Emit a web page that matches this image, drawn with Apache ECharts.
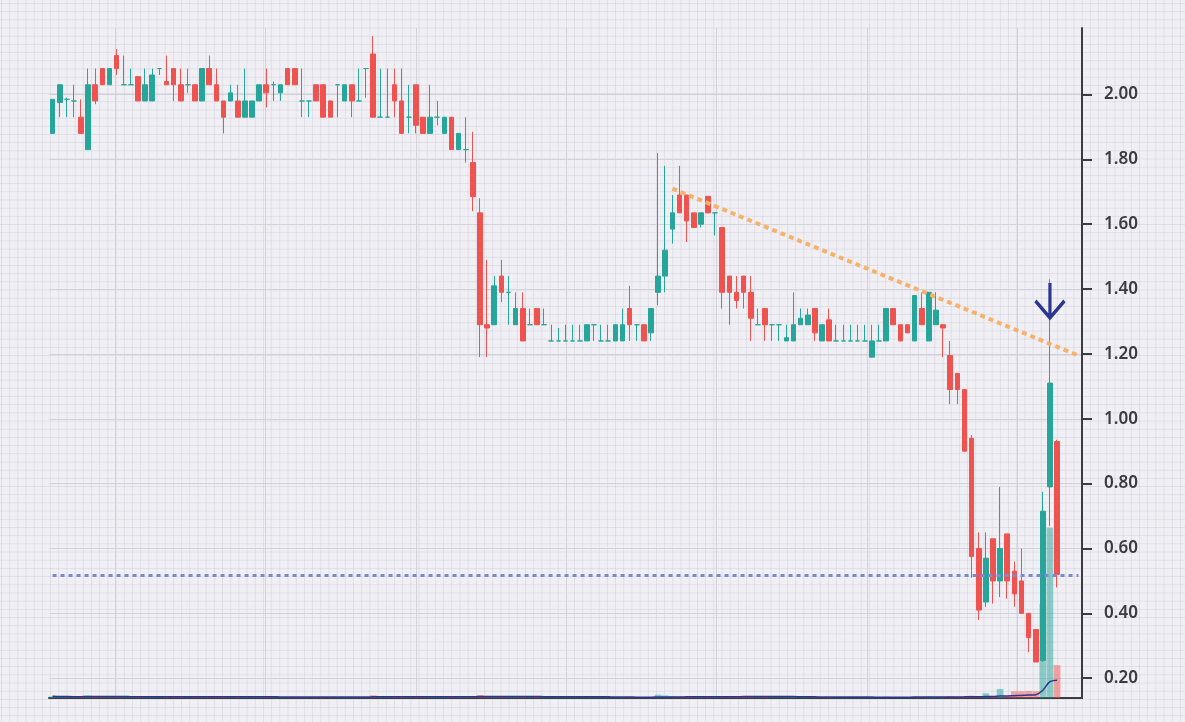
<!DOCTYPE html>
<html>
<head>
<meta charset="utf-8">
<script src="https://cdn.jsdelivr.net/npm/echarts@6/dist/echarts.min.js"></script>
<style>
html,body{margin:0;padding:0;width:1185px;height:722px;overflow:hidden;}
body{
  background-color:#f0eff4;
  background-image:
    linear-gradient(to right, rgba(196,194,210,0.38) 1px, transparent 1px),
    linear-gradient(to bottom, rgba(196,194,210,0.38) 1px, transparent 1px);
  background-size:8.2px 8.2px;
  background-position:1px 3px;
}
#chart{width:1185px;height:722px;}
</style>
</head>
<body>
<div id="chart"></div>
<script>
// ---------- data ----------
const categories = Array.from({length: 145}, (_, i) => String(i + 1));

const opens = [
1.88,1.975,1.985,1.98,1.93,1.83,2.03,2.08,2.03,2.12,
2.03,2.03,2.055,1.98,1.98,2.08,2.04,2.08,2.03,2.03,
2.03,1.98,2.08,2.03,1.98,1.98,1.98,1.93,1.93,1.98,
2.03,2.03,2.005,2.08,2.08,1.98,1.98,2.03,2.03,1.98,
2.03,1.98,2.03,1.98,2.08,2.125,1.93,1.93,2.03,1.98,
1.93,2.03,1.93,1.88,1.93,1.88,1.93,1.83,1.83,1.79,
1.635,1.29,1.29,1.44,1.39,1.29,1.34,1.29,1.34,1.29,
1.24,1.24,1.24,1.24,1.24,1.24,1.29,1.24,1.24,1.24,
1.24,1.34,1.29,1.29,1.265,1.39,1.44,1.585,1.69,1.69,
1.635,1.60,1.686,1.635,1.59,1.44,1.39,1.44,1.39,1.29,
1.34,1.29,1.29,1.24,1.24,1.29,1.29,1.34,1.24,1.305,
1.24,1.24,1.24,1.24,1.24,1.19,1.24,1.24,1.34,1.29,
1.29,1.24,1.34,1.24,1.29,1.29,1.195,1.14,1.09,0.94,
0.60,0.435,0.63,0.50,0.645,0.53,0.50,0.40,0.35,0.255,
0.79,0.93
];
const closes = [
1.985,2.03,1.985,1.98,1.88,2.03,1.98,2.03,2.08,2.08,
2.03,2.03,1.98,2.03,2.06,2.08,2.03,2.03,1.98,2.03,
1.98,2.08,2.03,1.98,1.93,2.005,1.93,1.98,1.98,2.03,
2.005,2.03,2.03,2.03,2.03,1.98,1.98,1.98,1.93,1.93,
2.03,2.03,1.98,1.98,2.08,1.93,1.93,1.93,1.98,1.88,
1.93,1.905,1.88,1.93,1.93,1.93,1.83,1.88,1.83,1.685,
1.29,1.28,1.41,1.39,1.39,1.34,1.24,1.29,1.29,1.29,
1.24,1.24,1.24,1.24,1.24,1.29,1.29,1.24,1.24,1.29,
1.29,1.29,1.29,1.24,1.34,1.44,1.52,1.635,1.635,1.61,
1.59,1.635,1.635,1.635,1.39,1.39,1.365,1.39,1.31,1.29,
1.29,1.29,1.29,1.25,1.29,1.31,1.32,1.265,1.29,1.24,
1.24,1.24,1.24,1.24,1.24,1.24,1.24,1.34,1.29,1.24,
1.265,1.38,1.29,1.39,1.335,1.28,1.09,1.09,0.90,0.575,
0.41,0.57,0.50,0.60,0.50,0.46,0.40,0.325,0.25,0.715,
1.11,0.52
];
const lows = [
1.88,1.93,1.93,1.93,1.88,1.83,1.97,2.03,2.03,2.06,
2.03,2.03,1.98,1.98,1.98,2.06,2.03,1.98,1.98,2.005,
1.98,1.98,2.03,1.98,1.88,1.98,1.93,1.93,1.93,1.98,
1.96,1.98,1.98,2.03,2.03,1.93,1.93,1.98,1.93,1.93,
1.93,1.98,1.93,1.98,1.99,1.93,1.93,1.93,1.93,1.88,
1.88,1.88,1.88,1.88,1.905,1.88,1.83,1.83,1.79,1.64,
1.19,1.19,1.29,1.36,1.29,1.29,1.24,1.29,1.29,1.29,
1.24,1.24,1.24,1.24,1.24,1.24,1.24,1.24,1.24,1.24,
1.24,1.24,1.24,1.24,1.24,1.35,1.39,1.54,1.635,1.545,
1.59,1.59,1.635,1.565,1.34,1.29,1.34,1.34,1.24,1.29,
1.24,1.24,1.24,1.24,1.24,1.29,1.29,1.24,1.24,1.24,
1.24,1.24,1.24,1.24,1.24,1.19,1.24,1.24,1.29,1.24,
1.265,1.24,1.29,1.24,1.29,1.19,1.045,1.045,0.90,0.51,
0.38,0.42,0.43,0.45,0.445,0.42,0.40,0.28,0.25,0.25,
0.67,0.48
];
const highs = [
1.985,2.03,1.99,2.03,1.985,2.08,2.08,2.08,2.08,2.14,
2.12,2.08,2.055,2.08,2.08,2.08,2.12,2.08,2.08,2.08,
2.03,2.08,2.12,2.08,1.98,2.03,2.03,2.08,1.98,2.03,
2.08,2.04,2.03,2.08,2.08,2.08,1.98,2.03,2.03,1.98,
2.03,2.03,2.03,2.08,2.08,2.18,2.08,2.08,2.08,2.08,
2.03,2.03,1.93,2.03,1.98,1.93,1.93,1.88,1.93,1.885,
1.68,1.49,1.44,1.49,1.44,1.39,1.39,1.34,1.34,1.34,
1.29,1.28,1.29,1.29,1.29,1.29,1.29,1.29,1.29,1.29,
1.34,1.41,1.29,1.29,1.34,1.82,1.78,1.69,1.78,1.69,
1.635,1.635,1.686,1.635,1.59,1.44,1.44,1.44,1.44,1.34,
1.34,1.29,1.29,1.29,1.39,1.34,1.34,1.34,1.29,1.34,
1.29,1.29,1.29,1.29,1.29,1.29,1.29,1.34,1.34,1.29,
1.29,1.38,1.39,1.39,1.39,1.29,1.24,1.14,1.09,0.95,
0.65,0.65,0.63,0.79,0.645,0.56,0.60,0.40,0.35,0.775,
1.43,0.935
];
const volumes = [
0.25,0.22,0.15,0.18,0.2,0.35,0.2,0.18,0.2,0.22,
0.15,0.15,0.18,0.2,0.22,0.12,0.15,0.18,0.18,0.12,
0.15,0.22,0.18,0.18,0.2,0.12,0.15,0.2,0.18,0.18,
0.15,0.12,0.15,0.18,0.18,0.15,0.12,0.15,0.2,0.15,
0.15,0.18,0.18,0.15,0.12,0.4,0.15,0.15,0.2,0.25,
0.15,0.22,0.18,0.2,0.12,0.18,0.22,0.18,0.15,0.3,
0.45,0.3,0.3,0.2,0.15,0.18,0.2,0.12,0.15,0.12,
0.1,0.1,0.1,0.1,0.1,0.12,0.1,0.1,0.1,0.12,
0.15,0.2,0.1,0.12,0.15,0.5,0.38,0.28,0.25,0.22,
0.18,0.15,0.18,0.15,0.3,0.22,0.18,0.2,0.22,0.12,
0.15,0.1,0.1,0.12,0.15,0.12,0.12,0.15,0.12,0.15,
0.1,0.1,0.1,0.1,0.1,0.15,0.1,0.2,0.15,0.12,
0.12,0.25,0.18,0.25,0.2,0.22,0.3,0.22,0.28,0.35,
0.25,0.7,0.3,1.35,0.3,1.0,1.0,1.05,1.0,14,
25.4,4.9
];
const priceTicks = [0.2,0.4,0.6,0.8,1.0,1.2,1.4,1.6,1.8,2.0];
const trendFrom = [87, 1.71];
const trendTo = [144, 1.195];
const supportLevel = 0.517;
const arrowAt = [140, 1.365];
const maWindow = 20;

// ---------- derived ----------
const UP = '#26a69a', DOWN = '#ef5350';
const ohlc = opens.map((o, i) => [o, closes[i], lows[i], highs[i]]);
const volData = volumes.map((v, i) => ({
  value: v,
  itemStyle: {color: closes[i] >= opens[i] ? 'rgba(38,166,154,0.5)' : 'rgba(239,83,80,0.5)'}
}));
const volMA = volumes.map((v, i) => {
  const s = Math.max(0, i - maWindow + 1);
  const win = volumes.slice(s, i + 1);
  return +(win.reduce((a, b) => a + b, 0) / win.length).toFixed(4);
});
// vertical grid positions in band units
const vGrid = Array.from({length: 7}, (_, k) => +(9.26 + 21.11 * k).toFixed(2));

const chart = echarts.init(document.getElementById('chart'), null, {renderer: 'canvas'});
chart.setOption({
  animation: false,
  backgroundColor: 'transparent',
  grid: {left: 49, right: 103, top: 28, bottom: 24, containLabel: false},
  xAxis: [
    {
      type: 'category', data: categories, boundaryGap: true,
      axisLine: {show: true, onZero: false, lineStyle: {color: '#3b3b42', width: 2}},
      axisTick: {show: false}, axisLabel: {show: false}, splitLine: {show: false}
    },
    {
      type: 'value', min: 0, max: 145, position: 'top',
      axisLine: {show: false},
      axisTick: {show: false, customValues: vGrid},
      axisLabel: {show: false, customValues: vGrid},
      splitLine: {show: true, lineStyle: {color: '#d3d2d9', width: 1}}
    }
  ],
  yAxis: [
    {
      type: 'value', position: 'right', min: 0.139, max: 2.205, scale: true,
      axisLine: {show: true, onZero: false, lineStyle: {color: '#3b3b42', width: 2}},
      axisTick: {show: true, length: 10, customValues: priceTicks, lineStyle: {color: '#3b3b42', width: 2}},
      axisLabel: {
        customValues: priceTicks, margin: 22,
        formatter: v => v.toFixed(2),
        color: '#3a3a40', fontSize: 17, fontWeight: 600, fontFamily: 'Noto Sans'
      },
      splitLine: {show: true, lineStyle: {color: '#d3d2d9', width: 1}}
    },
    {
      type: 'value', min: 0, max: 100, show: false, splitLine: {show: false}
    }
  ],
  series: [
    {
      name: 'Volume', type: 'bar', xAxisIndex: 0, yAxisIndex: 1,
      data: volData, barWidth: '94%', z: 1, silent: true
    },
    {
      name: 'VolMA', type: 'line', xAxisIndex: 0, yAxisIndex: 1,
      data: volMA, symbol: 'none', smooth: 0.4, z: 2, silent: true,
      lineStyle: {color: '#2c3691', width: 1.5}
    },
    {
      name: 'Price', type: 'candlestick', xAxisIndex: 0, yAxisIndex: 0,
      data: ohlc, barWidth: '72%', z: 3,
      itemStyle: {
        color: UP, color0: DOWN,
        borderColor: UP, borderColor0: DOWN, borderColorDoji: UP,
        borderWidth: 1
      },
      markLine: {
        silent: true, symbol: ['none', 'none'], label: {show: false},
        emphasis: {disabled: true},
        data: [
          [
            {coord: trendFrom, lineStyle: {color: '#f6b26b', width: 4, type: [5, 4], opacity: 1}},
            {coord: trendTo}
          ],
          [
            {coord: [0, supportLevel], lineStyle: {color: '#7a8ad8', width: 3, type: [4, 4], opacity: 1}},
            {coord: [144, supportLevel]}
          ]
        ]
      },
      markPoint: {
        silent: true,
        data: [{coord: arrowAt}],
        symbol: 'path://M14,0 L14,35 M0,18 L14,35 L28,18',
        symbolSize: [29, 35],
        itemStyle: {color: 'transparent', borderColor: '#2c3691', borderWidth: 3.5},
        label: {show: false}
      }
    }
  ]
});
</script>
</body>
</html>
